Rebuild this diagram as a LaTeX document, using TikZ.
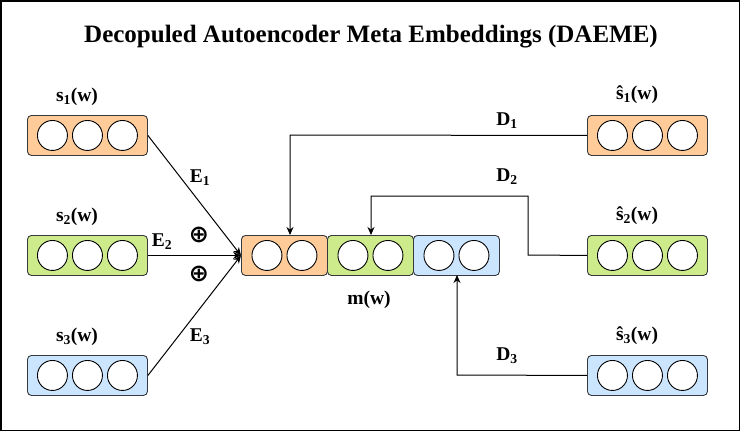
\documentclass[tikz,border=0pt]{standalone}
\usepackage{fontspec}
\setmainfont{Liberation Serif}
\newfontfamily\symfont{DejaVu Sans}
\usetikzlibrary{arrows.meta}
\definecolor{eorange}{HTML}{FFCC99}
\definecolor{egreen}{HTML}{CDEB8B}
\definecolor{eblue}{HTML}{CCE5FF}
\definecolor{estroke}{HTML}{36393D}
\begin{document}
\begin{tikzpicture}[x=1pt,y=-1pt,
  vecbox/.style={draw=estroke, line width=0.9pt, rounded corners=4pt, minimum width=#1, minimum height=40pt, inner sep=0pt, anchor=north west},
  unit/.style={draw=black, fill=white, circle, minimum size=30pt, inner sep=0pt, line width=0.9pt},
  lbl/.style={font={\bfseries\fontsize{19.5}{22}\selectfont}, inner sep=0pt},
  plus/.style={font={\symfont\bfseries\fontsize{24}{24}\selectfont}, inner sep=0pt},
  conn/.style={draw=black, line width=1pt},
  arr/.style={conn, -{Stealth[length=8pt,width=7pt]}}
]
\useasboundingbox (0,0) rectangle (741,432);
\fill[white] (0,0) rectangle (741,432);
\draw[line width=1.5pt] (0.75,0.75) rectangle (739.5,430.5);

\node[font={\bfseries\fontsize{25}{28}\selectfont}, inner sep=0pt] (title) at (371,37) {Decopuled Autoencoder Meta Embeddings (DAEME)};

% left inputs
\node[vecbox=120pt, fill=eorange] (s1) at (27,115) {};
\node[vecbox=120pt, fill=egreen] (s2) at (27,235) {};
\node[vecbox=120pt, fill=eblue] (s3) at (27,355) {};
% right outputs
\node[vecbox=120pt, fill=eorange] (r1) at (587,115) {};
\node[vecbox=120pt, fill=egreen] (r2) at (587,235) {};
\node[vecbox=120pt, fill=eblue] (r3) at (587,355) {};
% middle
\node[vecbox=86pt, fill=eorange] (m1) at (241,235) {};
\node[vecbox=86pt, fill=egreen] (m2) at (327,235) {};
\node[vecbox=86pt, fill=eblue] (m3) at (413,235) {};

\foreach \b in {s1,s2,s3,r1,r2,r3}{
  \node[unit] at ([xshift=-35pt]\b.center) {};
  \node[unit] at (\b.center) {};
  \node[unit] at ([xshift=35pt]\b.center) {};
}
\foreach \b in {m1,m2,m3}{
  \node[unit] at ([xshift=-17.5pt]\b.center) {};
  \node[unit] at ([xshift=17.5pt]\b.center) {};
}

% labels
\node[lbl] (ls1) at (77,97) {s\textsubscript{1}(w)};
\node[lbl] (ls2) at (77,217) {s\textsubscript{2}(w)};
\node[lbl] (ls3) at (77,337) {s\textsubscript{3}(w)};
\node[lbl] (lr1) at (637,95) {ŝ\textsubscript{1}(w)};
\node[lbl] (lr2) at (637,216) {ŝ\textsubscript{2}(w)};
\node[lbl] (lr3) at (637,336) {ŝ\textsubscript{3}(w)};
\node[lbl] (lm) at (369,300) {m(w)};

% encoders
\coordinate (join) at (m1.west);
\draw[arr] (s1.east) -- (join);
\draw[arr] (s2.east) -- (join);
\draw[arr] (s3.east) -- (join);
\node[lbl] (e1) at (200,178) {E\textsubscript{1}};
\node[lbl] (e2) at (162,242) {E\textsubscript{2}};
\node[lbl] (e3) at (200,337) {E\textsubscript{3}};
\node[plus] (p1) at (199,235) {⊕};
\node[plus] (p2) at (199,274) {⊕};

% decoders
\draw[arr] (r1.west) -- (290,135) -- (290,235);
\draw[arr] (r2.west) -- (528,255) -- (528,196) -- (371,196) -- (371,235);
\draw[arr] (r3.west) -- (457,375) -- (457,275);
\node[lbl] (d1) at (507,121) {D\textsubscript{1}};
\node[lbl] (d2) at (507,177) {D\textsubscript{2}};
\node[lbl] (d3) at (507,356) {D\textsubscript{3}};
\end{tikzpicture}
\end{document}
